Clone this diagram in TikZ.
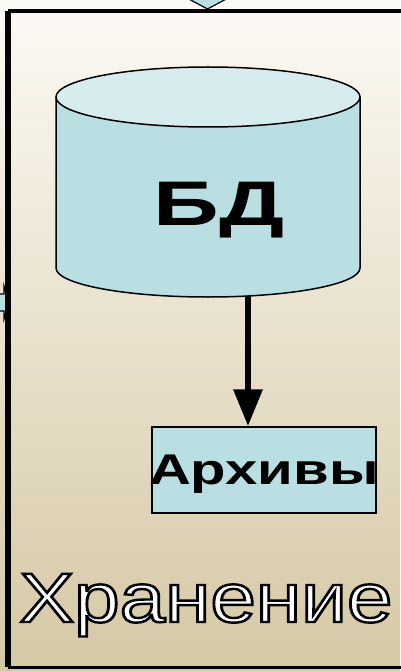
\documentclass[tikz,border=0pt]{standalone}
\usepackage{fontspec}
\setmainfont{Liberation Sans}
\usepackage{graphicx}
\definecolor{bgtop}{HTML}{FCFAF4}
\definecolor{bgmid}{HTML}{F1EBDA}
\definecolor{bgbot}{HTML}{D5C8A5}
\definecolor{cylbody}{HTML}{B9DFE3}
\definecolor{cyltop}{HTML}{D6ECEF}
\definecolor{boxfill}{HTML}{B9DFE3}
% outlined (white fill, black stroke) text via PDF text render mode 2
\newcommand{\outlinedtext}[1]{%
  \color{white}\special{pdf:literal direct 2 Tr 2.4 w 0 G}#1\special{pdf:literal direct 0 Tr 1 w}}
\tikzset{
  edge/.style={draw=black, line width=1.5pt},
  stub/.style={fill=cylbody, draw=black, line width=1.2pt, line join=miter},
  storebox/.style={rectangle, fill=boxfill, draw=black, line width=1.5pt,
    minimum width=224pt, minimum height=86pt, inner sep=0pt},
  flow/.style={line width=6.5pt, -{Triangle[length=37pt, width=28pt]}},
}
\usetikzlibrary{arrows.meta}
\begin{document}
\begin{tikzpicture}[x=1pt, y=-1pt]
  \useasboundingbox (0,0) rectangle (400,671);
  % background gradient
  \shade[top color=bgtop, middle color=bgmid, bottom color=bgbot] (0,0) rectangle (400,671);

  % incoming arrow tips at the top and on the left
  \draw[stub] (185,-3) -- (230,-3) -- (207.5,9) -- cycle;
  \draw[stub] (-5,294) -- (4,294) -- (4,286) -- (9,302.5) -- (4,319) -- (4,311) -- (-5,311) -- cycle;

  % frame of the storage stage
  \draw[line width=5.5pt] (8,11) -- (8,667);
  \draw[line width=4pt] (8,11) -- (410,11);
  \draw[line width=3pt] (8,667) -- (410,667);

  % database cylinder
  \fill[cylbody] (56,97) -- (56,268) arc[start angle=180, end angle=360, x radius=152, y radius=-29]
     -- (360,97) -- cycle;
  \draw[edge] (56,97) -- (56,268) arc[start angle=180, end angle=360, x radius=152, y radius=-29]
     -- (360,97);
  \draw[edge, fill=cyltop] (208,97) ellipse[x radius=152, y radius=30];
  \node[inner sep=0pt, minimum width=304pt, minimum height=230pt] (db) at (208,182) {};
  \node[font=\bfseries\fontsize{63}{63}\selectfont, anchor=base] (dblabel) at (219,225)
    {\scalebox{1.45}[1]{БД}};
  \coordinate (dbfoot) at (248,296);

  % archive box
  \node[storebox] (arch) at (264,470) {};
  \node[font=\bfseries\fontsize{43}{43}\selectfont, anchor=base] (archlabel) at (264,484)
    {\scalebox{1.35}[1]{Архивы}};

  \draw[flow] (dbfoot) -- (dbfoot |- arch.north);

  % stage caption
  \node[font=\fontsize{70}{70}\selectfont, anchor=base] (stage) at (206,622)
    {\scalebox{1.17}[1]{\outlinedtext{Хранение}}};
\end{tikzpicture}
\end{document}
